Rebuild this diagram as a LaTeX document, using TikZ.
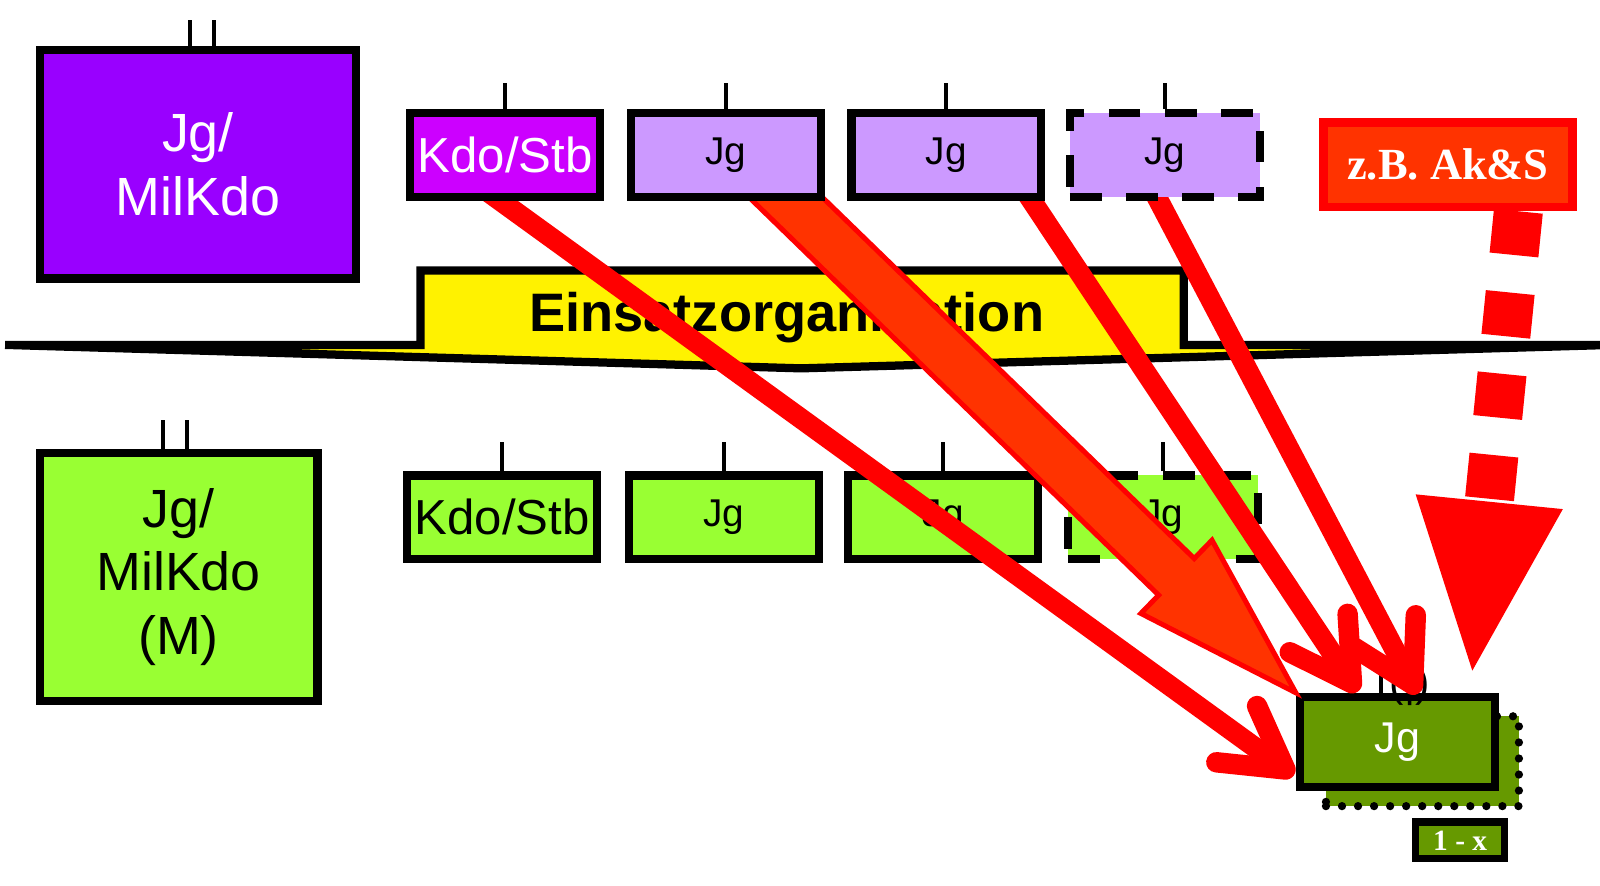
\documentclass[tikz,border=0pt]{standalone}
\usepackage{fontspec}
\setmainfont{Liberation Sans}
\newfontfamily\timesfont{Liberation Serif}
\usetikzlibrary{positioning, calc, arrows.meta}

\definecolor{colViolet}{HTML}{9900FF}
\definecolor{colMagenta}{HTML}{CC00FF}
\definecolor{colLavender}{HTML}{CC99FF}
\definecolor{colLime}{HTML}{99FF33}
\definecolor{colOlive}{HTML}{669900}
\definecolor{colOrange}{HTML}{FF3300}

\pgfdeclarelayer{bg}
\pgfdeclarelayer{arrows}
\pgfsetlayers{bg,arrows,main}

\tikzstyle{Box} = [draw, line width=2.3pt, minimum width=1.86cm,
minimum height=0.82cm, inner sep=0pt]
\tikzstyle{BigText} = [align=center, font=\fontsize{15}{17.6}\selectfont]
\tikzstyle{KdoText} = [font=\fontsize{13.7}{16}\selectfont]
\tikzstyle{JgText} = [font=\fontsize{10.8}{12}\selectfont]
\tikzstyle{Tick} = [line width=1.1pt]
\tikzstyle{Dots} = [line width=2.3pt, line cap=round, dash pattern=on 0pt off 4.47pt]
\tikzstyle{Arrow} = [red, line width=5.7pt,
-{Straight Barb[length=0.59cm, width=0.68cm, round]}]
\tikzstyle{FatArrow} = [draw=red, fill=colOrange, line width=1.4pt]
\tikzstyle{DashArrow} = [red, line width=13.66pt, dash pattern=on 0.43cm off 0.37cm,
-{Triangle[length=1.74cm, width=1.3cm]}]

\begin{document}
\begin{tikzpicture}[x=0.01cm, y=-0.01cm]
    \useasboundingbox (0,0) rectangle (1568,868);

    % upper row
    \node[Box, BigText, fill=colViolet, text=white, minimum width=3.1cm,
      minimum height=2.24cm] (milKdo) at (194,161) {Jg/\\MilKdo};
    \node[Box, KdoText, fill=colMagenta, text=white] (kdoTop) at (495,152) {Kdo/Stb};
    \node[Box, JgText, fill=colLavender, right=0.22cm of kdoTop] (jgTopA) {Jg};
    \node[Box, JgText, fill=colLavender, right=0.22cm of jgTopA] (jgTopB) {Jg};
    \node[Box, JgText, fill=colLavender, dash pattern=on 0.31cm off 0.24cm,
      right=0.2cm of jgTopB] (jgTopC) {Jg};
    \node[Box, fill=colOrange, draw=red, text=white, minimum width=2.44cm,
      minimum height=0.83cm, font=\timesfont\bfseries\fontsize{12.4}{14}\selectfont]
      (akS) at (1419,161.5) {z.B. Ak\&S};

    \draw[Tick] ([xshift=-0.08cm]milKdo.north) -- ++(0,-25);
    \draw[Tick] ([xshift=0.16cm]milKdo.north) -- ++(0,-25);
    \foreach \n in {kdoTop, jgTopA, jgTopB, jgTopC}
      \draw[Tick] (\n.north) -- ++(0,-26);

    \begin{pgfonlayer}{bg}
    % lower row
    \node[Box, BigText, fill=colLime, minimum width=2.72cm,
      minimum height=2.43cm] (milKdoM) at (175,565.5) {Jg/\\MilKdo\\(M)};
    \node[Box, KdoText, fill=colLime] (kdoBot) at (492,507) {Kdo/Stb};
    \node[Box, JgText, fill=colLime, right=0.23cm of kdoBot] (jgBotA) {Jg};
    \node[Box, JgText, fill=colLime, right=0.21cm of jgBotA] (jgBotB) {Jg};
    \node[Box, JgText, fill=colLime, dash pattern=on 0.31cm off 0.24cm,
      right=0.21cm of jgBotB] (jgBotC) {Jg};

    \draw[Tick] ([xshift=-0.15cm]milKdoM.north) -- ++(0,-28);
    \draw[Tick] ([xshift=0.08cm]milKdoM.north) -- ++(0,-28);
    \foreach \n in {kdoBot, jgBotA, jgBotB, jgBotC}
      \draw[Tick] (\n.north) -- ++(0,-29);

    % banner
    \draw[line width=2.3pt, fill=yellow] (5,338) -- (412,338) -- (412,265)
      -- (1160,265) -- (1160,338) -- (1580,338) -- (785,361) -- cycle;
    \node[font=\bfseries\fontsize{15.1}{16}\selectfont, anchor=base]
      (banner) at (771,325) {Einsatzorganisation};

    % target
    \node[Box, Dots, fill=colOlive, minimum width=1.89cm, minimum height=0.88cm]
      (jgShadow) at (1394,746) {};
    \node[Box, fill=colOlive, text=white, font=\fontsize{12}{13}\selectfont,
      minimum width=1.91cm, minimum height=0.88cm] (jgDest) at (1369.5,727) {Jg};
    \draw[Tick] ([xshift=-0.16cm]jgDest.north) -- ++(0,-20);
    \node[font=\fontsize{12}{13}\selectfont, inner sep=0pt]
      (jgOpt) at ($(jgDest.north)+(12,-7)$) {(|)};
    \node[Box, fill=colOlive, text=white, line width=2pt, minimum width=0.87cm,
      minimum height=0.36cm, font=\timesfont\bfseries\fontsize{8.2}{9}\selectfont]
      (oneX) at (1431,823.5) {1 - x};
    \end{pgfonlayer}

    \begin{pgfonlayer}{arrows}
    \coordinate (fatS) at ($(jgTopA.south)+(41,-21)$);
    \coordinate (fatT) at (jgDest.north west);
    \coordinate (fatB) at ($(fatT)!1.63cm!(fatS)$);
    \draw[FatArrow] ($(fatS)!0.25cm!90:(fatT)$) -- ($(fatB)!0.25cm!90:(fatT)$)
      -- ($(fatB)!0.5cm!90:(fatT)$) -- (fatT) -- ($(fatB)!0.5cm!-90:(fatT)$)
      -- ($(fatB)!0.25cm!-90:(fatT)$) -- ($(fatS)!0.25cm!-90:(fatT)$) -- cycle;

    \draw[Arrow] ($(kdoTop.south)+(-25,-15)$) -- ($(jgDest.west)+(-2,33)$);
    \draw[Arrow] ($(jgTopB.south)+(68,-24)$) -- ($(jgDest.north)+(-39,-1)$);
    \draw[Arrow] ($(jgTopC.south)+(-18,-23)$) -- ($(jgDest.north)+(20,1)$);
    \draw[DashArrow] ($(akS.south)+(69,0)$) -- ($(jgDest.north east)+(-27,-14)$);
    \end{pgfonlayer}
\end{tikzpicture}
\end{document}
